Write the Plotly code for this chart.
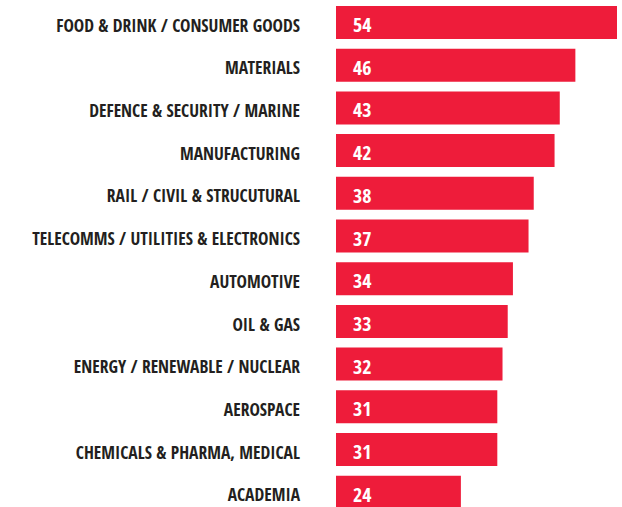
import plotly.graph_objects as go

# Sectors, listed top to bottom
categories = [
    "FOOD & DRINK / CONSUMER GOODS",
    "MATERIALS",
    "DEFENCE & SECURITY / MARINE",
    "MANUFACTURING",
    "RAIL / CIVIL & STRUCUTURAL",
    "TELECOMMS / UTILITIES & ELECTRONICS",
    "AUTOMOTIVE",
    "OIL & GAS",
    "ENERGY / RENEWABLE / NUCLEAR",
    "AEROSPACE",
    "CHEMICALS & PHARMA, MEDICAL",
    "ACADEMIA",
]
values = [54, 46, 43, 42, 38, 37, 34, 33, 32, 31, 31, 24]

RED = "#EE1C3A"
INK = "#231F20"
FONT = "Open Sans Condensed, Roboto Condensed, sans-serif"

W, H = 622, 507
left_margin = 336
pitch = 42.7          # px per category row
first_center = 22.5   # px from top to centre of first row

fig = go.Figure(
    go.Bar(
        x=values,
        y=list(range(len(categories))),
        orientation="h",
        marker=dict(color=RED, line=dict(width=0)),
        hoverinfo="skip",
    )
)

# value labels sitting near the start of each bar
for i, v in enumerate(values):
    fig.add_annotation(
        x=0, y=i, text=str(v), showarrow=False,
        xanchor="left", yanchor="middle", xshift=15, yshift=-2,
        font=dict(family=FONT, size=20, color="white", weight="bold"),
    )

r0 = -first_center / pitch
r1 = r0 + H / pitch

fig.update_layout(
    width=W, height=H,
    margin=dict(l=left_margin, r=W - 617, t=0, b=0),
    paper_bgcolor="white", plot_bgcolor="white",
    bargap=1 - 33 / pitch,
    showlegend=False,
    xaxis=dict(range=[0, 54], visible=False, fixedrange=True),
    yaxis=dict(
        range=[r1, r0],
        tickmode="array",
        tickvals=list(range(len(categories))),
        ticktext=categories,
        ticks="",
        ticklabelstandoff=35,
        ticklabelshift=-3,
        automargin=False,
        showgrid=False, zeroline=False, showline=False,
        tickfont=dict(family=FONT, size=17.5, color=INK, weight="bold"),
        fixedrange=True,
    ),
)

fig.write_html("out.html", config={"displayModeBar": False})
